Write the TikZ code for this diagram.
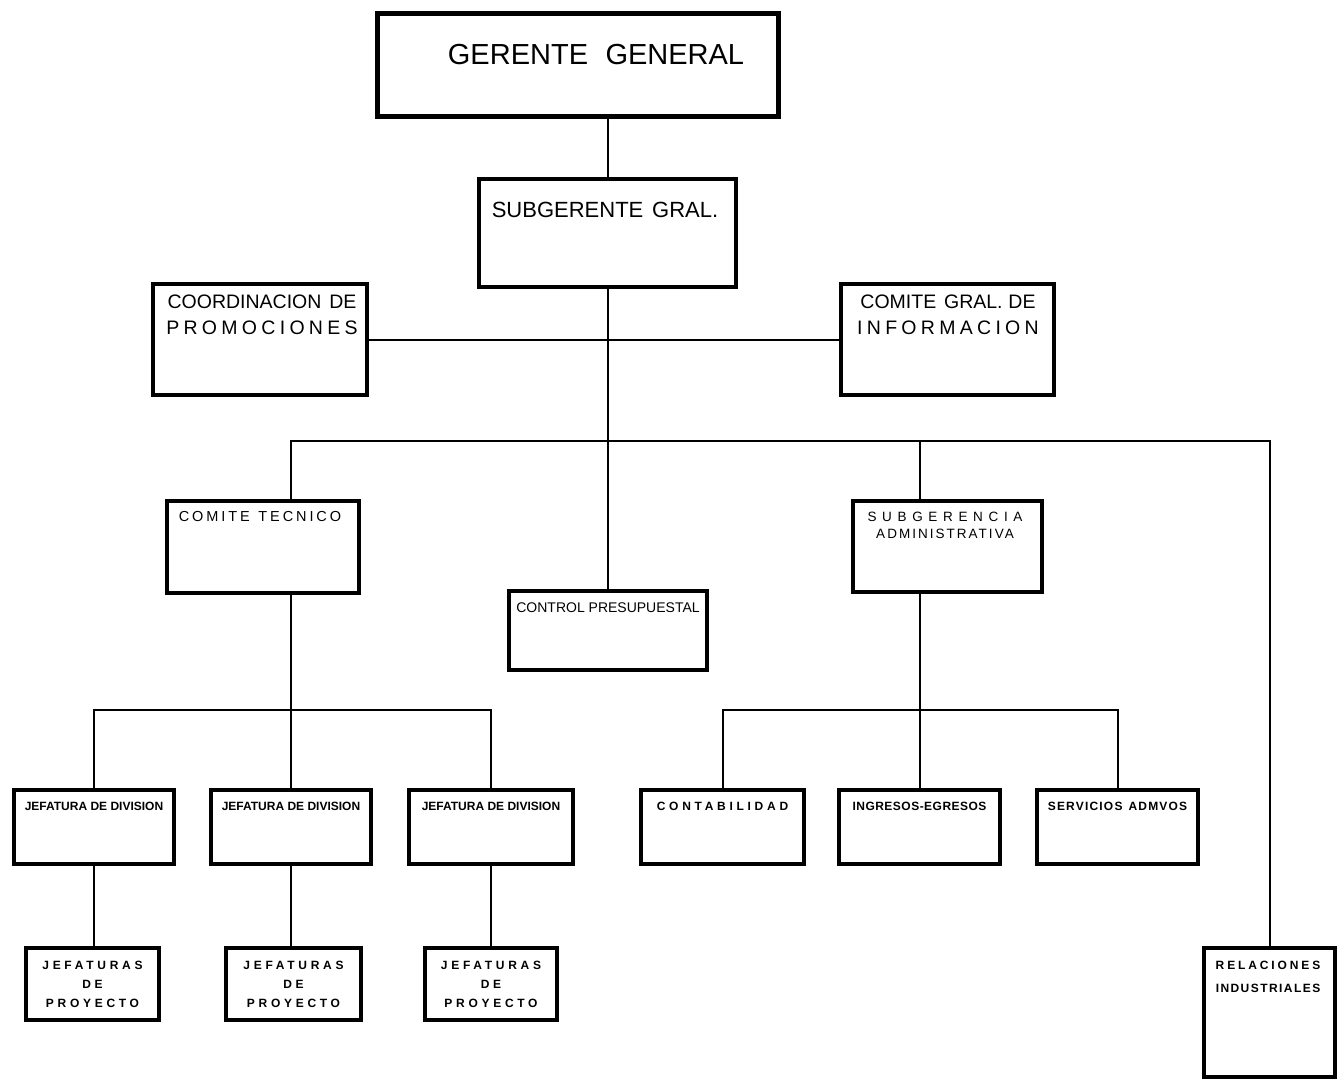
\documentclass[tikz,border=0pt]{standalone}
\usepackage{fontspec}
\setmainfont{Liberation Sans}
\newcommand{\trk}[1]{\addfontfeatures{LetterSpace=#1}}
\tikzset{
  box/.style={draw,line width=4pt,inner sep=0pt},
  conn/.style={line width=2pt},
  txt/.style={inner sep=0pt,align=center},
  fbig/.style={txt,font=\fontsize{29}{34}\selectfont},
  fmid/.style={txt,font=\fontsize{19.5}{26}\selectfont},
  fsml/.style={txt,font=\fontsize{14}{17}\selectfont},
  ftny/.style={txt,font=\bfseries\fontsize{12}{19.5}\selectfont}
}

\begin{document}
\begin{tikzpicture}[x=1pt,y=-1pt]
\useasboundingbox (0,0) rectangle (1338,1087);
% top levels
\node[box,line width=5pt,minimum width=401pt,minimum height=103pt] (gg) at (577.5,64.5) {};
\node[box,minimum width=257pt,minimum height=108pt] (sg) at (607.5,233) {};
\node[box,minimum width=214pt,minimum height=111pt] (co) at (260,339.5) {};
\node[box,minimum width=213pt,minimum height=111pt] (cg) at (947.5,339.5) {};
\node[fbig] (gg-t) at (596,55) {GERENTE\hspace{0.6em}GENERAL};
\node[fsml,font=\fontsize{22}{26}\selectfont] (sg-t) at (605,210) {SUBGERENTE\hspace{0.4em}GRAL.};
\node[fmid] (co-t) at (262,315) {COORDINACION\hspace{0.4em}DE\\{\trk{22}PROMOCIONES}};
\node[fmid] (cg-t) at (948,315) {COMITE\hspace{0.4em}GRAL.\hspace{0.3em}DE\\{\trk{22}INFORMACION}};
% third level
\node[box,minimum width=192pt,minimum height=92pt] (ct) at (263,547) {};
\node[box,minimum width=198pt,minimum height=79pt] (cp) at (607.5,630.5) {};
\node[box,minimum width=189pt,minimum height=91pt] (sa) at (947.5,546.5) {};
\node[fsml,font=\fontsize{14.5}{17}\selectfont\trk{20}] (ct-t) at (260,517) {COMITE\hspace{0.6em}TECNICO};
\node[fsml] (cp-t) at (608,608) {CONTROL PRESUPUESTAL};
\node[fsml,font=\fontsize{13.5}{17}\selectfont] (sa-t) at (945,525.5) {{\trk{42}SUBGERENCIA}\\{\trk{15}ADMINISTRATIVA}};
% fourth level
\node[box,minimum width=160pt,minimum height=74pt] (jd1) at (94,827) {};
\node[box,minimum width=160pt,minimum height=74pt] (jd2) at (291,827) {};
\node[box,minimum width=164pt,minimum height=74pt] (jd3) at (491,827) {};
\node[box,minimum width=163pt,minimum height=74pt] (cont) at (722.5,827) {};
\node[box,minimum width=161pt,minimum height=74pt] (ing) at (919.5,827) {};
\node[box,minimum width=161pt,minimum height=74pt] (serv) at (1117.5,827) {};
\foreach \n in {jd1,jd2,jd3}
  \node[ftny] (\n-t) at ([yshift=21pt]\n.center) {JEFATURA DE DIVISION};
\node[ftny,font=\bfseries\fontsize{12}{19.5}\selectfont\trk{31}] (cont-t) at (722.5,806) {CONTABILIDAD};
\node[ftny,font=\bfseries\fontsize{12}{19.5}\selectfont\trk{4}] (ing-t) at (919.5,806) {INGRESOS-EGRESOS};
\node[ftny,font=\bfseries\fontsize{12}{19.5}\selectfont\trk{10}] (serv-t) at (1117.5,806) {SERVICIOS\hspace{0.5em}ADMVOS};
% bottom level
\node[box,minimum width=133pt,minimum height=72pt] (jp1) at (92.5,984) {};
\node[box,minimum width=135pt,minimum height=72pt] (jp2) at (293.5,984) {};
\node[box,minimum width=132pt,minimum height=72pt] (jp3) at (491,984) {};
\node[box,minimum width=131pt,minimum height=129pt] (ri) at (1269.5,1012.5) {};
\foreach \n in {jp1,jp2,jp3}
  \node[ftny,font=\bfseries\fontsize{12}{19}\selectfont\trk{31}] (\n-t) at (\n.center) {JEFATURAS\\DE\\PROYECTO};
\node[ftny,font=\bfseries\fontsize{12}{23}\selectfont] (ri-t) at (1268,976.5) {{\trk{24}RELACIONES}\\{\trk{12}INDUSTRIALES}};
% connectors
\draw[conn] (gg.south -| sg.north) -- (sg.north);
\draw[conn] (co.east) -- (cg.west);
\draw[conn] (sg.south) -- (cp.north);
\coordinate (bus) at (607.5,441);
\draw[conn] (ct.north -| jd2.north) |- (bus) -| (ri.north);
\draw[conn] (bus) -| (sa.north -| ing.north);
\coordinate (busl) at (291,710);
\draw[conn] (ct.south -| jd2.north) -- (jd2.north);
\draw[conn] (jd1.north) |- (busl) -| (jd3.north);
\coordinate (busr) at (919.5,710);
\draw[conn] (sa.south -| ing.north) -- (ing.north);
\draw[conn] (cont.north) |- (busr) -| (serv.north);
\foreach \a/\b in {jd1/jp1,jd2/jp2,jd3/jp3}
  \draw[conn] (\a.south) -- (\a.south |- \b.north);
\end{tikzpicture}
\end{document}
